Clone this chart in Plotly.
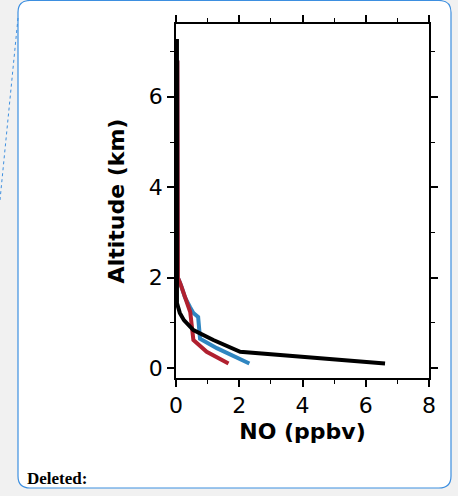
import plotly.graph_objects as go

# Data
black_no = [0.03, 0.03, 0.12, 0.25, 0.55, 1.18, 2.03, 6.61]
black_alt = [7.28, 1.44, 1.22, 1.06, 0.84, 0.62, 0.36, 0.10]

blue_no = [0.04, 0.06, 0.18, 0.28, 0.44, 0.55, 0.70, 0.76, 1.29, 2.32]
blue_alt = [6.8, 2.0, 1.79, 1.57, 1.35, 1.22, 1.13, 0.65, 0.44, 0.10]

red_no = [0.045, 0.06, 0.13, 0.23, 0.34, 0.45, 0.55, 0.97, 1.66]
red_alt = [6.8, 2.0, 1.88, 1.66, 1.44, 1.24, 0.62, 0.36, 0.10]

x_ticks = [0, 2, 4, 6, 8]
y_ticks = [0, 2, 4, 6]

W, H = 458, 496
fig = go.Figure()
fig.add_trace(go.Scatter(x=blue_no, y=blue_alt, mode="lines",
                         line=dict(color="#2f86c1", width=4), showlegend=False))
fig.add_trace(go.Scatter(x=red_no, y=red_alt, mode="lines",
                         line=dict(color="#b0202f", width=4), showlegend=False))
fig.add_trace(go.Scatter(x=black_no, y=black_alt, mode="lines",
                         line=dict(color="black", width=4), showlegend=False))

font_fam = "DejaVu Sans"
axis_common = dict(
    showgrid=False, zeroline=False, showline=True, linecolor="black", linewidth=1.5,
    mirror="ticks", ticks="outside", ticklen=7, tickwidth=1.5, tickcolor="black",
    tickfont=dict(family=font_fam, size=22, color="black"),
    minor=dict(ticks="outside", ticklen=4, tickwidth=1.2, tickcolor="black", dtick=1),
    automargin=False,
)
fig.update_xaxes(range=[0, 8], tickvals=x_ticks, ticktext=[str(v) for v in x_ticks],
                 domain=[176 / W, 429 / W],
                 title=dict(text="<b>NO (ppbv)</b>", font=dict(family=font_fam, size=22, color="black"),
                            standoff=6),
                 **axis_common)
fig.update_yaxes(range=[-0.22, 7.61], tickvals=y_ticks, ticktext=[str(v) for v in y_ticks],
                 domain=[1 - 378 / H, 1 - 24 / H],
                 title=dict(text="<b>Altitude (km)</b>", font=dict(family=font_fam, size=22, color="black"),
                            standoff=18),
                 **axis_common)

# Rounded comment box
x0, x1 = 18 / W, 451 / W
y0, y1 = 1 - 488 / H, 1 - 0.5 / H
r = 12
rx, ry = r / W, r / H
path = (f"M {x0+rx},{y1} L {x1-rx},{y1} Q {x1},{y1} {x1},{y1-ry} L {x1},{y0+ry} "
        f"Q {x1},{y0} {x1-rx},{y0} L {x0+rx},{y0} Q {x0},{y0} {x0},{y0+ry} "
        f"L {x0},{y1-ry} Q {x0},{y1} {x0+rx},{y1} Z")
shapes = [
    dict(type="path", xref="paper", yref="paper", path=path, fillcolor="white",
         line=dict(color="#3d8fe0", width=1.2), layer="below"),
    dict(type="line", xref="paper", yref="paper", x0=18 / W, y0=1 - 18 / H, x1=0, y1=1 - 200 / H,
         line=dict(color="#3d8fe0", width=1, dash="dot")),
]

fig.update_layout(
    width=W, height=H, margin=dict(l=0, r=0, t=0, b=0, pad=0),
    paper_bgcolor="#f1f1f1", plot_bgcolor="white",
    shapes=shapes,
    annotations=[dict(text="<b>Deleted:</b>", xref="paper", yref="paper",
                      x=25 / W, y=1 - 478 / H, xanchor="left", yanchor="middle",
                      showarrow=False, font=dict(family="Liberation Serif", size=17, color="black"))],
)

fig.write_html("out.html")
